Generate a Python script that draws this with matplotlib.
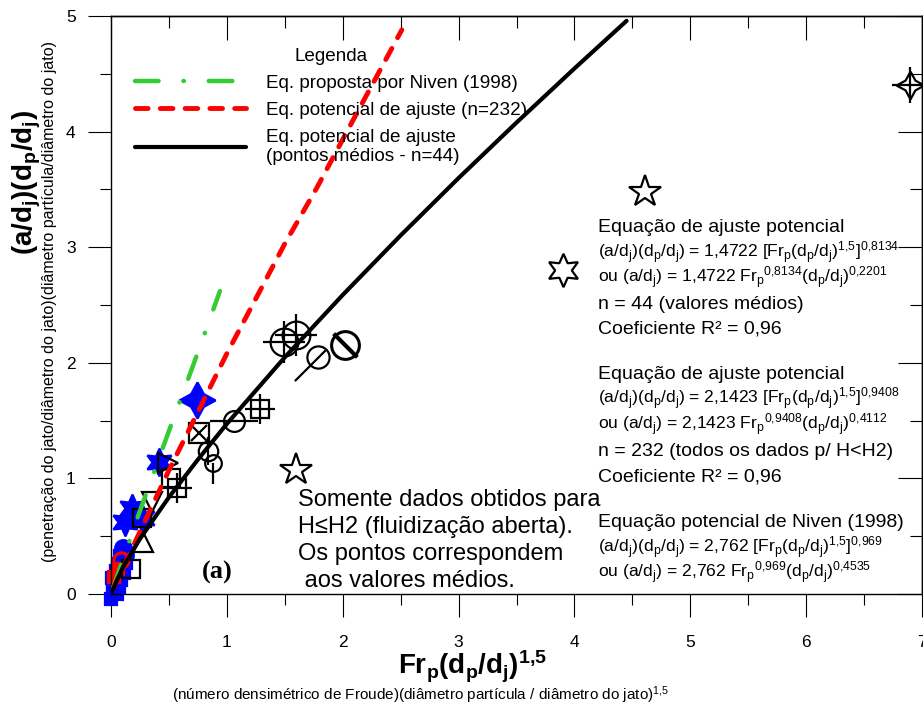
import matplotlib.pyplot as plt
from matplotlib.path import Path
from matplotlib.ticker import MultipleLocator, NullFormatter

plt.rcParams['font.family'] = ['Liberation Sans', 'DejaVu Sans']
plt.rcParams['mathtext.fontset'] = 'custom'
plt.rcParams['mathtext.rm'] = 'Liberation Sans'
plt.rcParams['mathtext.it'] = 'Liberation Sans:italic'
plt.rcParams['mathtext.bf'] = 'Liberation Sans:bold'

# curves
niven_x = [0.02, 0.25, 0.50, 0.75, 0.94]
niven_y = [0.06, 0.72, 1.41, 2.09, 2.62]
fit232_x = [0.02, 0.50, 1.00, 1.50, 1.78, 2.09, 2.51]
fit232_y = [0.05, 1.07, 2.08, 3.03, 3.52, 4.10, 4.88]
fit44_x = [0.00, 0.10, 0.25, 0.50, 0.75, 1.00, 1.50, 2.00, 2.50, 3.00, 3.50, 4.00, 4.45]
fit44_y = [0.000, 0.226, 0.477, 0.837, 1.163, 1.472, 2.048, 2.587, 3.102, 3.598, 4.078, 4.546, 4.958]

# mean points, grouped by symbol
blue_sq_x = [0.00, 0.02, 0.05, 0.03, 0.07, 0.01, 0.09, 0.04, 0.11, 0.06, 0.13, 0.08, 0.02, 0.10]
blue_sq_y = [-0.04, 0.02, 0.00, 0.08, 0.06, 0.14, 0.12, 0.20, 0.18, 0.26, 0.27, 0.33, 0.05, 0.38]
blue_dot_x = [0.10, 0.12]
blue_dot_y = [0.40, 0.34]
blue_hex_x = [0.41, 0.18, 0.12, 0.27]
blue_hex_y = [1.14, 0.74, 0.62, 0.66]
blue_spark_x = [0.74]
blue_spark_y = [1.68]
red_fill_x = [0.03, 0.06]
red_fill_y = [0.15, 0.22]
red_open_x = [0.09]
red_open_y = [0.29]
sq_x = [0.17, 0.52, 0.27]
sq_y = [0.22, 1.00, 0.66]
tri_up_x = [0.28]
tri_up_y = [0.45]
tri_dn_x = [0.35]
tri_dn_y = [0.80]
tri_rt_x = [0.49]
tri_rt_y = [1.13]
boxx_x = [0.76]
boxx_y = [1.39]
boxplus_x = [0.57, 1.29]
boxplus_y = [0.92, 1.60]
circ_v_x = [0.84]
circ_v_y = [1.24]
circ_stem_x = [0.88]
circ_stem_y = [1.13]
circ_h_x = [1.06]
circ_h_y = [1.50]
circ_plus_x = [1.49, 1.60]
circ_plus_y = [2.18, 2.24]
circ_diag_x = [2.02]
circ_diag_y = [2.15]
circ_arrow_x = [1.79]
circ_arrow_y = [2.05]
star5_x = [1.60, 4.61]
star5_y = [1.07, 3.48]
star6_x = [3.90]
star6_y = [2.80]
star4_x = [6.90]
star4_y = [4.40]

W, H = 923, 705
fig = plt.figure(figsize=(W / 100, H / 100), dpi=100)
ax = fig.add_axes([111 / W, 1 - 594 / H, (922 - 111) / W, (594 - 16) / H])


def pts(xs, ys, marker, ms, color='black', fill='none', mew=1.6, clip=True):
    ax.plot(xs, ys, ls='none', marker=marker, ms=ms, mfc=fill, mec=color,
            mew=mew, clip_on=clip, zorder=2)


# blue / red cluster near the origin
pts(blue_sq_x, blue_sq_y, 's', 9, color='blue', fill='blue', clip=False)
pts(blue_dot_x, blue_dot_y, 'o', 12, color='blue', fill='blue', clip=False)
pts(blue_hex_x, blue_hex_y, (6, 1, 0), 20, color='blue', fill='blue')
pts(blue_spark_x, blue_spark_y, (4, 1, 0), 26, color='blue', fill='blue')
pts(red_fill_x, red_fill_y, 's', 8, color='red', fill='red', clip=False)
pts(red_open_x, red_open_y, 'o', 11, color='red', mew=2.2, clip=False)

# open black symbols
pts(sq_x, sq_y, 's', 13)
pts(tri_up_x, tri_up_y, '^', 15)
pts(tri_dn_x, tri_dn_y, 'v', 15)
pts(tri_rt_x, tri_rt_y, '>', 15)
pts(boxx_x, boxx_y, 's', 15)
pts(boxx_x, boxx_y, 'x', 11)
pts(boxplus_x, boxplus_y, 's', 13)
pts(boxplus_x, boxplus_y, '+', 22)
pts(circ_v_x, circ_v_y, 'o', 14)
pts(circ_v_x, circ_v_y, '|', 20)
pts(circ_stem_x, circ_stem_y, 'o', 12)
pts(circ_stem_x, circ_stem_y, Path([(0, 0), (0, -1)]), 30)
pts(circ_h_x, circ_h_y, 'o', 15)
pts(circ_h_x, circ_h_y, '_', 34)
pts(circ_plus_x, circ_plus_y, 'o', 20)
pts(circ_plus_x, circ_plus_y, '+', 30)
pts(circ_diag_x, circ_diag_y, 'o', 20, mew=2.2)
pts(circ_diag_x, circ_diag_y, Path([(-1, 1), (1, -1)]), 17, mew=3)
pts(circ_arrow_x, circ_arrow_y, 'o', 16)
pts(circ_arrow_x, circ_arrow_y, Path([(-1, -1), (0.3, 0.3)]), 34)
pts(star5_x, star5_y, '*', 24)
pts(star6_x, star6_y, (6, 1, 0), 24)
pts(star4_x, star4_y, (4, 1, 0), 20)
pts(star4_x, star4_y, '+', 26)

# fitted curves
ax.plot(niven_x, niven_y, color='#33cc33', lw=3.2, dashes=(5.3, 5.6, 0.1, 5.6),
        dash_capstyle='round', zorder=4, label='Eq. proposta por Niven (1998)')
ax.plot(fit232_x, fit232_y, color='red', lw=3.5, dashes=(2.6, 2.5),
        dash_capstyle='round', zorder=4, label='Eq. potencial de ajuste (n=232)')
ax.plot(fit44_x, fit44_y, color='black', lw=3.0, solid_capstyle='round',
        solid_joinstyle='round', zorder=4,
        label='Eq. potencial de ajuste\n(pontos médios - n=44)')

ax.set_xlim(0, 7)
ax.set_ylim(0, 5)
ax.xaxis.set_major_locator(MultipleLocator(1))
ax.xaxis.set_minor_locator(MultipleLocator(0.5))
ax.yaxis.set_major_locator(MultipleLocator(1))
ax.yaxis.set_minor_locator(MultipleLocator(0.5))
ax.tick_params(which='major', direction='out', length=16.5, width=0.8, labelsize=12.5)
ax.tick_params(which='minor', direction='out', length=8, width=0.8)
ax.tick_params(axis='x', pad=13)
ax.tick_params(axis='y', pad=9)
for s in ax.spines.values():
    s.set_linewidth(1.0)

# inward ticks on top and right
top = ax.secondary_xaxis('top')
right = ax.secondary_yaxis('right')
for sec, axis in ((top, top.xaxis), (right, right.yaxis)):
    axis.set_major_locator(MultipleLocator(1))
    axis.set_minor_locator(MultipleLocator(0.5))
    axis.set_major_formatter(NullFormatter())
    sec.tick_params(which='major', direction='in', length=17, width=0.8)
    sec.tick_params(which='minor', direction='in', length=8.5, width=0.8)
    for s in sec.spines.values():
        s.set_linewidth(1.0)

ax.legend(loc='upper left', bbox_to_anchor=(0.029, 0.945), title='Legenda',
          frameon=False, fontsize=13.6, title_fontsize=13.6, handlelength=5.9,
          handletextpad=1.05, labelspacing=0.52, borderpad=0, borderaxespad=0)

# equation blocks
eq_lines = [
    'Equação de ajuste potencial',
    r'(a/d$_\mathrm{j}$)(d$_\mathrm{p}$/d$_\mathrm{j}$) = 1,4722 [Fr$_\mathrm{p}$(d$_\mathrm{p}$/d$_\mathrm{j}$)$^\mathrm{1{,}5}$]$^\mathrm{0{,}8134}$',
    r'ou (a/d$_\mathrm{j}$) = 1,4722 Fr$_\mathrm{p}{}^\mathrm{0{,}8134}$(d$_\mathrm{p}$/d$_\mathrm{j}$)$^\mathrm{0{,}2201}$',
    'n = 44 (valores médios)',
    'Coeficiente R² = 0,96',
    'Equação de ajuste potencial',
    r'(a/d$_\mathrm{j}$)(d$_\mathrm{p}$/d$_\mathrm{j}$) = 2,1423 [Fr$_\mathrm{p}$(d$_\mathrm{p}$/d$_\mathrm{j}$)$^\mathrm{1{,}5}$]$^\mathrm{0{,}9408}$',
    r'ou (a/d$_\mathrm{j}$) = 2,1423 Fr$_\mathrm{p}{}^\mathrm{0{,}9408}$(d$_\mathrm{p}$/d$_\mathrm{j}$)$^\mathrm{0{,}4112}$',
    'n = 232 (todos os dados p/ H<H2)',
    'Coeficiente R² = 0,96',
    'Equação potencial de Niven (1998)',
    r'(a/d$_\mathrm{j}$)(d$_\mathrm{p}$/d$_\mathrm{j}$) = 2,762 [Fr$_\mathrm{p}$(d$_\mathrm{p}$/d$_\mathrm{j}$)$^\mathrm{1{,}5}$]$^\mathrm{0{,}969}$',
    r'ou (a/d$_\mathrm{j}$) = 2,762 Fr$_\mathrm{p}{}^\mathrm{0{,}969}$(d$_\mathrm{p}$/d$_\mathrm{j}$)$^\mathrm{0{,}4535}$',
]
eq_y = [225, 251, 276, 302, 327, 372, 397, 423, 449, 475, 520, 546, 571]
for txt, y in zip(eq_lines, eq_y):
    size = 12.6 if '$' in txt else 14
    fig.text(598 / W, 1 - (y + 7) / H, txt, fontsize=size, va='baseline')

note_lines = ['Somente dados obtidos para', 'H≤H2 (fluidização aberta).',
              'Os pontos correspondem', ' aos valores médios.']
for i, txt in enumerate(note_lines):
    fig.text(298 / W, 1 - (498 + 27 * i + 8) / H, txt, fontsize=17, va='baseline')

fig.text(217 / W, 1 - 572 / H, '(a)', fontsize=19, fontweight='bold',
         family='Liberation Serif', ha='center', va='center')

# axis titles
fig.text(472 / W, 1 - 667 / H, r'Fr$_\mathbf{p}$(d$_\mathbf{p}$/d$_\mathbf{j}$)$^\mathbf{1{,}5}$',
         fontsize=20, fontweight='bold', ha='center', va='center')
fig.text(421 / W, 1 - 695 / H,
         r'(número densimétrico de Froude)(diâmetro partícula / diâmetro do jato)$^\mathrm{1{,}5}$',
         fontsize=11, ha='center', va='center')
fig.text(27 / W, 1 - 182 / H, r'(a/d$_\mathbf{j}$)(d$_\mathbf{p}$/d$_\mathbf{j}$)',
         fontsize=20, fontweight='bold', rotation=90, ha='center', va='center')
fig.text(50 / W, 1 - 302 / H,
         '(penetração do jato/diâmetro do jato)(diâmetro partícula/diâmetro do jato)',
         fontsize=11.5, rotation=90, ha='center', va='center')

fig.savefig('out.png', dpi=100)
